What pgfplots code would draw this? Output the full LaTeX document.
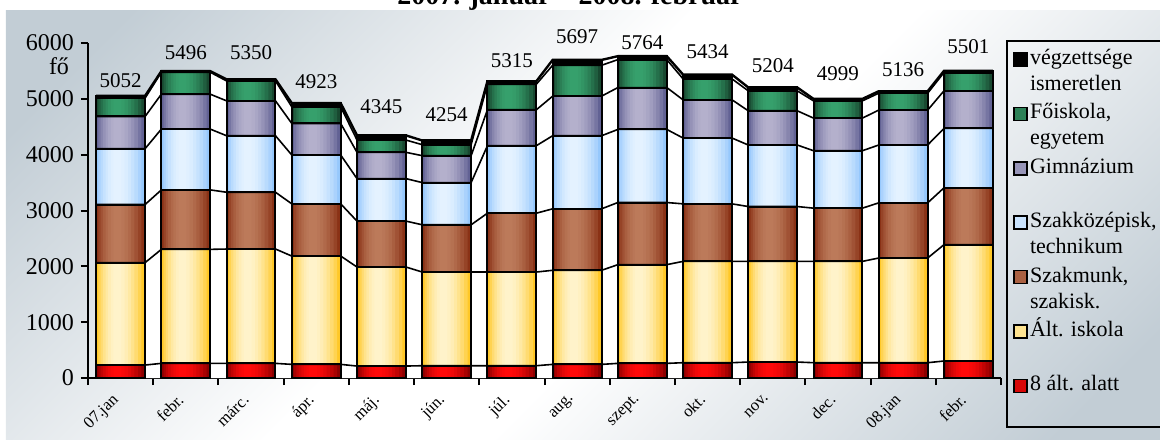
\documentclass[border=0pt]{standalone}
\usepackage{pgfplots}
\pgfplotsset{compat=1.18}
\usepackage{pgfplotstable}
\usepackage{fontspec}
\setmainfont{Liberation Serif}

\definecolor{bgc}{RGB}{194,205,213}
\definecolor{redE}{RGB}{140,0,0}     \definecolor{redM}{RGB}{255,10,10}
\definecolor{yelE}{RGB}{255,200,40}  \definecolor{yelM}{RGB}{255,243,202}
\definecolor{brnE}{RGB}{138,50,22}   \definecolor{brnM}{RGB}{188,122,90}
\definecolor{bluE}{RGB}{150,200,252} \definecolor{bluM}{RGB}{228,242,255}
\definecolor{purE}{RGB}{98,98,148}   \definecolor{purM}{RGB}{180,176,204}
\definecolor{grnE}{RGB}{24,72,48}    \definecolor{grnM}{RGB}{54,160,108}

\pgfdeclareverticalshading{bgsh}{100bp}{color(0bp)=(bgc); color(20bp)=(bgc); color(45bp)=(white); color(55bp)=(white); color(80bp)=(bgc); color(100bp)=(bgc)}

% cumulative top of each band (fo), gap = label offset above bar (pt)
\pgfplotstableread{
idx red  yel  brn  blu  pur  grn  tot  gap
0   232  2066 3107 4107 4684 5012 5052 4
1   262  2304 3369 4458 5083 5476 5496 6
2   262  2310 3327 4339 4964 5321 5350 10
3   244  2184 3119 3994 4559 4857 4923 7.5
4   214  1988 2810 3571 4042 4262 4345 11
5   220  1898 2744 3500 3982 4179 4254 9.5
6   220  1898 2952 4161 4804 5262 5315 7
7   244  1929 3030 4339 5048 5601 5697 8
8   262  2030 3143 4452 5202 5702 5764 3.5
9   274  2089 3119 4298 4982 5357 5434 8
10  286  2089 3071 4173 4786 5143 5204 7.5
11  274  2089 3042 4071 4655 4964 4999 9
12  274  2149 3137 4173 4798 5101 5136 7.5
13  304  2387 3405 4470 5143 5470 5501 8.5
}\tops

% polyline along the top of one band: bar top, then across the gap to the next bar
\newcommand\buildpts[2]{%
  \gdef#2{}%
  \foreach \i in {0,...,13}{%
    \pgfplotstablegetelem{\i}{#1}\of\tops
    \pgfmathsetmacro\xa{\i-0.375}%
    \pgfmathsetmacro\xb{\i+0.375}%
    \xdef#2{#2(\xa,\pgfplotsretval)(\xb,\pgfplotsretval)}%
  }%
}
\buildpts{red}\ptsA \buildpts{yel}\ptsB \buildpts{brn}\ptsC
\buildpts{blu}\ptsD \buildpts{pur}\ptsE \buildpts{grn}\ptsF
\buildpts{tot}\ptsG

\newcommand\txt{\fontsize{10.5}{13}\selectfont}

% one band: edge-coloured bar, narrower lighter bars on it (horizontal gradient), outline
\newcommand\band[4]{%
  \addplot[bar, fill=#2, draw=none,
    legend image code/.code={\draw[fill=#3!65!#2, draw=black, line width=0.8pt] (0pt,-3.25pt) rectangle (6.5pt,3.25pt);}]
    table[x=idx, y=#1] {\tops};
  \addlegendentry{#4}
  \addplot[bar, forget plot, draw=none, bar width=0.66, bar shift=-0.01, fill=#3!25!#2] table[x=idx, y=#1] {\tops};
  \addplot[bar, forget plot, draw=none, bar width=0.57, bar shift=-0.02, fill=#3!45!#2] table[x=idx, y=#1] {\tops};
  \addplot[bar, forget plot, draw=none, bar width=0.48, bar shift=-0.03, fill=#3!62!#2] table[x=idx, y=#1] {\tops};
  \addplot[bar, forget plot, draw=none, bar width=0.39, bar shift=-0.035, fill=#3!76!#2] table[x=idx, y=#1] {\tops};
  \addplot[bar, forget plot, draw=none, bar width=0.30, bar shift=-0.04, fill=#3!87!#2] table[x=idx, y=#1] {\tops};
  \addplot[bar, forget plot, draw=none, bar width=0.21, bar shift=-0.045, fill=#3!95!#2] table[x=idx, y=#1] {\tops};
  \addplot[bar, forget plot, draw=none, bar width=0.12, bar shift=-0.05, fill=#3] table[x=idx, y=#1] {\tops};
  \addplot[bar, forget plot, fill=none] table[x=idx, y=#1] {\tops};
}

\begin{document}
\begin{tikzpicture}
\shade[shading=bgsh, shading angle=45] (-41pt,-36pt) rectangle (540pt,183.5pt);
\begin{axis}[
  scale only axis, width=456.5pt, height=167.5pt,
  xmin=-0.5, xmax=13.5, ymin=0, ymax=6000,
  clip=false,
  axis x line*=bottom, axis y line*=left,
  axis line style={line width=1pt, -},
  tick style={line width=1pt, black},
  tick align=outside,
  major tick length=3.5pt, minor tick length=3.5pt,
  ytick={0,1000,...,6000},
  xtick={0,...,13},
  major x tick style={draw=none},
  minor xtick={-0.5,0.5,...,13.5},
  xticklabels={07.jan, febr., márc., ápr., máj., jún., júl., aug., szept., okt., nov., dec., 08.jan, febr.},
  xticklabel style={xshift=-4.75pt, yshift=-2.25pt, rotate=45, anchor=north east,
    font=\fontsize{8.3}{9}\selectfont, inner sep=1pt},
  yticklabel style={font=\fontsize{12}{14}\selectfont},
  /pgf/number format/assume math mode=true,
  /pgf/number format/1000 sep={},
  bar/.style={ybar, bar width=0.75, bar shift=0pt, draw=black, line width=1pt},
  lvl/.style={black, line width=0.8pt, no marks, forget plot},
  legend style={at={(rel axis cs:1.0066,0.991)}, anchor=north west, draw=none,
    fill=none, font=\fontsize{11}{13}\selectfont, row sep=14.2pt, inner xsep=3pt, inner ysep=0pt,
    nodes={inner sep=1pt, text height=8pt, text depth=3pt}},
  legend cell align=left,
]
% white area under the bars and the series lines
\edef\tmp{\noexpand\addplot[fill=white, draw=none, forget plot] coordinates {\ptsG} \noexpand\closedcycle;}\tmp

\addplot[bar, fill=black, nodes near coords,
  legend image code/.code={\draw[fill=black, line width=0.8pt] (0pt,-3.25pt) rectangle (6.5pt,3.25pt);},
  visualization depends on={\thisrow{gap} \as \gap},
  every node near coord/.append style={anchor=base, inner sep=0pt, yshift=\gap pt, font=\txt}]
  table[x=idx, y=tot] {\tops};
\addlegendentry{\rlap{\raisebox{-13pt}[0pt][0pt]{ismeretlen}}végzettsége}
\band{grn}{grnE}{grnM}{\rlap{\raisebox{-13pt}[0pt][0pt]{egyetem}}Főiskola,}
\band{pur}{purE}{purM}{Gimnázium}
\band{blu}{bluE}{bluM}{\rlap{\raisebox{-13pt}[0pt][0pt]{technikum}}Szakközépisk,}
\band{brn}{brnE}{brnM}{\rlap{\raisebox{-13pt}[0pt][0pt]{szakisk.}}Szakmunk,}
\band{yel}{yelE}{yelM}{Ált. iskola}
\band{red}{redE}{redM}{8 ált. alatt}

% series lines
\edef\tmp{\noexpand\addplot[lvl] coordinates {\ptsA};}\tmp
\edef\tmp{\noexpand\addplot[lvl] coordinates {\ptsB};}\tmp
\edef\tmp{\noexpand\addplot[lvl] coordinates {\ptsC};}\tmp
\edef\tmp{\noexpand\addplot[lvl] coordinates {\ptsD};}\tmp
\edef\tmp{\noexpand\addplot[lvl] coordinates {\ptsE};}\tmp
\edef\tmp{\noexpand\addplot[lvl] coordinates {\ptsF};}\tmp
\edef\tmp{\noexpand\addplot[lvl, line width=1.2pt] coordinates {\ptsG};}\tmp

\node[font=\fontsize{12}{14}\selectfont] at (rel axis cs:0,1) [xshift=-14.5pt, yshift=-11.5pt] {fő};
\end{axis}
\draw[line width=1pt] (459.5pt,168.5pt) rectangle (545pt,-24.5pt);
\node[font=\bfseries\fontsize{14}{16}\selectfont, anchor=base] at (241pt,186.5pt) {2007. január – 2008. február};
\pgfresetboundingbox
\useasboundingbox (-44pt,-30.5pt) rectangle (536pt,189pt);
\end{tikzpicture}
\end{document}
